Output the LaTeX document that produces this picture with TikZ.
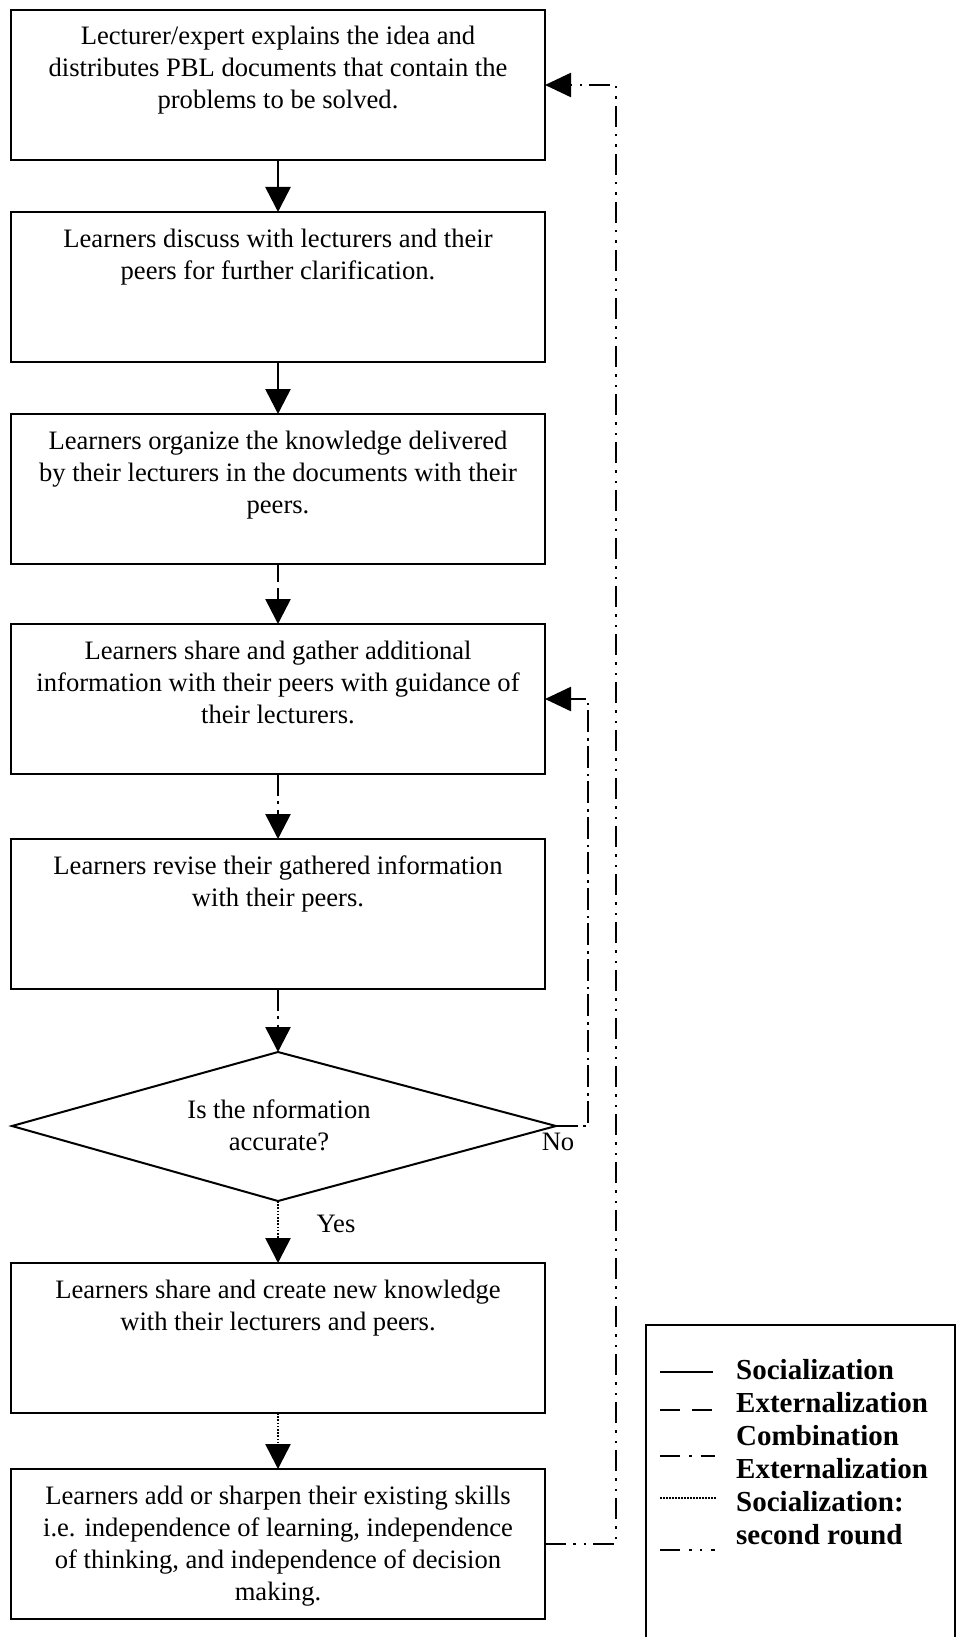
\documentclass[tikz,border=0pt]{standalone}
\usepackage{fontspec}
\setmainfont{Liberation Serif}
\usetikzlibrary{arrows.meta}

% text of a process box: top-aligned, first baseline 35pt below the top edge
\newcommand\steptext[2]{\parbox[c][#1][t]{534pt}{\centering\fontsize{26.6}{32}\selectfont\rule{0pt}{35pt}#2}}

\tikzset{
  stepbox/.style={draw, line width=2pt, inner sep=0pt, outer sep=0pt},
  flow/.style={line width=2.6pt, -{Triangle[length=25pt,width=25pt]}},
  loopline/.style={line width=2.4pt, -{Triangle[length=26pt,width=24pt]}},
  ext/.style={dash pattern=on 18pt off 6pt},
  comb/.style={dash pattern=on 22pt off 5pt on 2.5pt off 6pt},
  inter/.style={dash pattern=on 1.6pt off 1.6pt},
  round2/.style={dash pattern=on 21pt off 7pt on 2.5pt off 8pt on 2.5pt off 7pt},
  lbl/.style={inner sep=0pt, font=\fontsize{26.6}{32}\selectfont},
  legline/.style={line width=2.4pt},
}

\begin{document}
\begin{tikzpicture}[x=1pt, y=-1pt]
\useasboundingbox (0,0) rectangle (958,1637);

% process steps
\node[stepbox] (b1) at (278,85) {\steptext{150pt}{Lecturer/expert explains the idea and\\distributes PBL documents that contain the\\problems to be solved.}};
\node[stepbox] (b2) at (278,287) {\steptext{150pt}{Learners discuss with lecturers and their\\peers for further clarification.}};
\node[stepbox] (b3) at (278,489) {\steptext{150pt}{Learners organize the knowledge delivered\\by their lecturers in the documents with their\\peers.}};
\node[stepbox] (b4) at (278,699) {\steptext{150pt}{Learners share and gather additional\\information with their peers with guidance of\\their lecturers.}};
\node[stepbox] (b5) at (278,914) {\steptext{150pt}{Learners revise their gathered information\\with their peers.}};
\node[stepbox] (b7) at (278,1338) {\steptext{150pt}{Learners share and create new knowledge\\with their lecturers and peers.}};
\node[stepbox] (b8) at (278,1544) {\steptext{150pt}{Learners add or sharpen their existing skills\\i.e. independence of learning, independence\\of thinking, and independence of decision\\making.}};

% decision
\coordinate (dT) at (278,1052);
\coordinate (dL) at (12,1126);
\coordinate (dR) at (556,1126);
\coordinate (dB) at (278,1201);
\draw[line width=2pt, line join=miter] (dT) -- (dR) -- (dB) -- (dL) -- cycle;
\node[anchor=base, inner sep=0pt] (q) at (279,1118) {\parbox[t]{300pt}{\centering\fontsize{26.6}{32}\selectfont Is the nformation\\accurate?}};
\node[lbl] (yes) at (336,1224) {Yes};
\node[lbl] (no) at (558,1142) {No};

% main flow
\draw[flow] (b1.south) -- (b2.north);
\draw[flow] (b2.south) -- (b3.north);
\draw[flow, ext] (b3.south) -- (b4.north);
\draw[flow, comb] (b4.south) -- (b5.north);
\draw[flow, comb] (b5.south) -- (dT);
\draw[flow, inter] (dB) -- (b7.north);
\draw[flow, inter] (b7.south) -- (b8.north);

% feedback loops
\draw[loopline, comb] (dR) -- ++(32,0) |- (b4.east);
\draw[loopline, round2] (b8.east) -- ++(71,0) |- (b1.east);

% legend
\draw[line width=2.6pt] (646,1640) -- (646,1325) -- (955,1325) -- (955,1640);
\draw[legline] (660,1372) -- (713,1372);
\draw[legline, dash pattern=on 20pt off 12pt] (660,1410) -- (712,1410);
\draw[legline, dash pattern=on 20pt off 9pt on 2.5pt off 9pt] (660,1456) -- (715,1456);
\draw[line width=1.6pt, dash pattern=on 1.5pt off 1.5pt] (660,1498) -- (716,1498);
\draw[legline, dash pattern=on 20pt off 9pt on 2.5pt off 8pt on 2.5pt off 9pt] (660,1550) -- (715,1550);
\node[anchor=base west, inner sep=0pt] (leg) at (736,1379) {\parbox[t]{215pt}{\raggedright\bfseries\fontsize{29}{33}\selectfont Socialization\\Externalization\\Combination\\Externalization\\Socialization:\\second round}};
\end{tikzpicture}
\end{document}
